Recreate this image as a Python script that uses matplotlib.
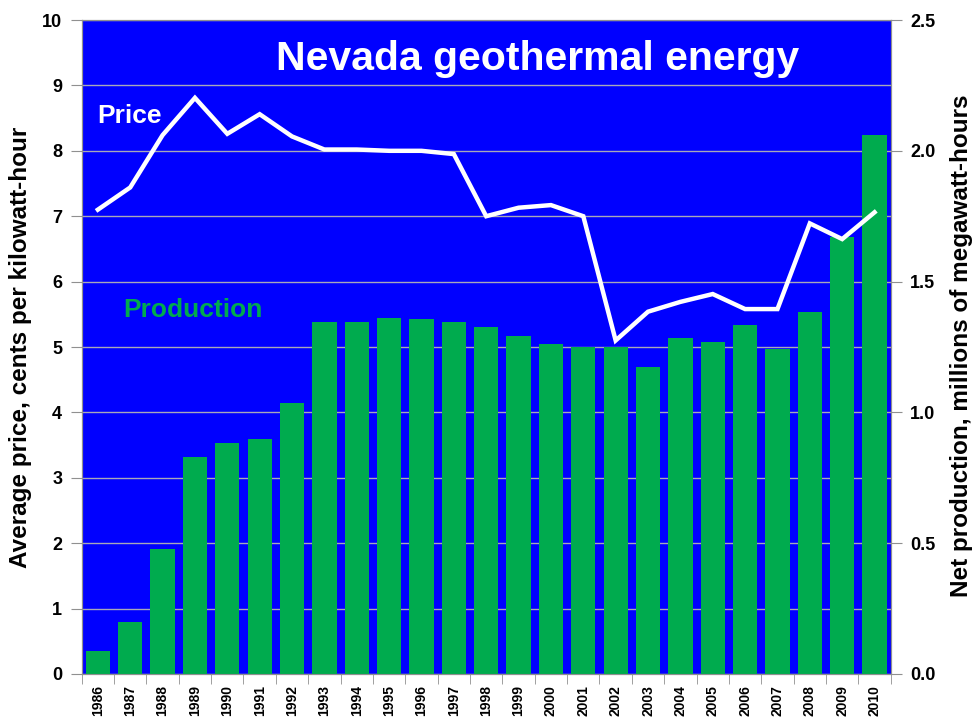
import numpy as np
import matplotlib.pyplot as plt

plt.rcParams['font.family'] = ['Liberation Sans', 'DejaVu Sans']

years = [str(y) for y in range(1986, 2011)]
price = [7.10, 7.44, 8.24, 8.81, 8.26, 8.56, 8.22, 8.02, 8.02, 8.00, 8.00, 7.95,
         7.00, 7.13, 7.17, 7.00, 5.10, 5.54, 5.69, 5.81, 5.58, 5.58, 6.89, 6.65, 7.06]
production = [0.089, 0.198, 0.477, 0.830, 0.882, 0.897, 1.035, 1.347, 1.347, 1.360,
              1.356, 1.347, 1.326, 1.291, 1.260, 1.251, 1.251, 1.174, 1.283, 1.270,
              1.334, 1.241, 1.385, 1.669, 2.060]

blue = '#0000FF'
green = '#00AB4E'
grid_col = '#A8A8B8'

x = np.arange(len(years))

fig = plt.figure(figsize=(9.77, 7.23), dpi=100)
ax = fig.add_axes([0.0836, 0.0678, 0.8281, 0.9045])
ax2 = ax.twinx()

# bars + grid on the twin axis, drawn underneath
ax2.patch.set_visible(True)
ax2.set_facecolor(blue)
ax2.bar(x, production, width=0.75, color=green, zorder=3)
ax2.set_ylim(0, 2.5)
ax2.set_yticks(np.arange(0, 2.51, 0.5))
ax2.set_yticks(np.arange(0, 2.51, 0.25), minor=True)
ax2.set_yticklabels(['%.1f' % v for v in np.arange(0, 2.51, 0.5)],
                    fontsize=13, fontweight='bold')
ax2.tick_params(axis='y', which='major', length=8, color='#909090', pad=6)
ax2.tick_params(axis='y', which='minor', length=0)
ax2.grid(True, axis='y', which='both', color=grid_col, lw=1, zorder=1)
ax2.set_axisbelow(True)

# price line on the main axis, on top
ax.set_zorder(ax2.get_zorder() + 1)
ax.patch.set_visible(False)
ax.plot(x, price, color='white', lw=3.2, solid_joinstyle='miter', zorder=4)
ax.set_ylim(0, 10)
ax.set_xlim(-0.5, len(years) - 0.5)
ax.set_yticks(range(0, 11))
ax.set_yticklabels([str(v) for v in range(0, 11)], fontsize=13, fontweight='bold')
ax.tick_params(axis='y', length=8, color='#909090', pad=6)
ax.set_xticks(x)
ax.set_xticklabels(years, rotation=90, fontsize=10, fontweight='bold')
ax.set_xticks(np.arange(-0.5, len(years), 1), minor=True)
ax.tick_params(axis='x', which='major', length=0, pad=8)
ax.tick_params(axis='x', which='minor', length=7, color='#909090')

for a in (ax, ax2):
    for s in a.spines.values():
        s.set_color('#909090')

# axis titles
fig.text(0.021, 0.52, 'Average price, cents per kilowatt-hour', rotation=90,
         ha='center', va='center', fontsize=17.5, fontweight='bold')
fig.text(0.984, 0.5215, 'Net production, millions of megawatt-hours', rotation=90,
         ha='center', va='center', fontsize=17.5, fontweight='bold')

ax.text(0.564, 0.9235, 'Nevada geothermal energy', transform=ax.transAxes,
        ha='center', va='baseline', color='white', fontsize=29.5, fontweight='bold')
ax.text(0.019, 0.8425, 'Price', transform=ax.transAxes, ha='left', va='baseline',
        color='white', fontsize=19, fontweight='bold')
ax.text(0.0515, 0.546, 'Production', transform=ax.transAxes, ha='left', va='baseline',
        color=green, fontsize=19, fontweight='bold')

fig.savefig('out.png', dpi=100)
